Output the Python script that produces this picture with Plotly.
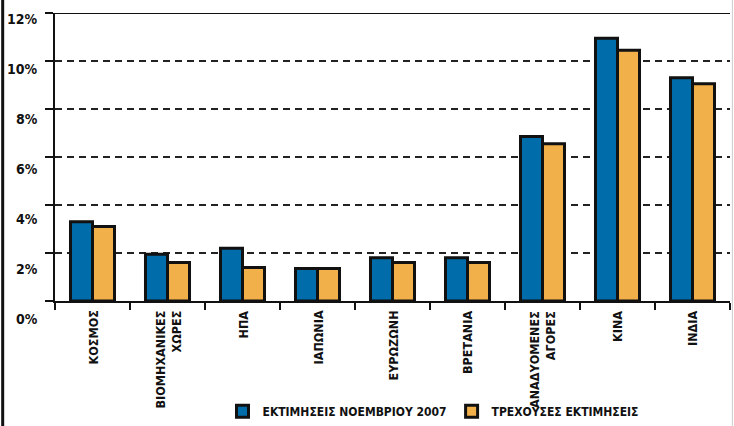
import plotly.graph_objects as go

categories = ["ΚΟΣΜΟΣ", "ΒΙΟΜΗΧΑΝΙΚΕΣ<br>ΧΩΡΕΣ", "ΗΠΑ", "ΙΑΠΩΝΙΑ", "ΕΥΡΩΖΩΝΗ",
              "ΒΡΕΤΑΝΙΑ", "ΑΝΑΔΥΟΜΕΝΕΣ<br>ΑΓΟΡΕΣ", "ΚΙΝΑ", "ΙΝΔΙΑ"]
nov2007 = [3.3, 1.95, 2.2, 1.35, 1.8, 1.8, 6.85, 10.95, 9.3]
current = [3.1, 1.6, 1.4, 1.35, 1.6, 1.6, 6.55, 10.45, 9.05]
series_names = ["ΕΚΤΙΜΗΣΕΙΣ ΝΟΕΜΒΡΙΟΥ 2007", "ΤΡΕΧΟΥΣΕΣ ΕΚΤΙΜΗΣΕΙΣ"]
ytick_vals = [0, 2, 4, 6, 8, 10, 12]
ytick_text = ["0%", "2%", "4%", "6%", "8%", "10%", "12%"]

FONT = "Liberation Sans Narrow, DejaVu Sans Condensed, Arial Narrow, sans-serif"
BLUE = "#006DAA"
ORANGE = "#F2B04A"
INK = "#111111"

PLOT_TOP, PLOT_BOTTOM = 13, 301.5
PLOT_H = PLOT_BOTTOM - PLOT_TOP

fig = go.Figure()
fig.add_trace(go.Bar(x=categories, y=nov2007, name=series_names[0],
                     marker=dict(color=BLUE, line=dict(color=INK, width=3))))
fig.add_trace(go.Bar(x=categories, y=current, name=series_names[1],
                     marker=dict(color=ORANGE, line=dict(color=INK, width=3))))

# y tick labels (placed slightly below their gridlines, as in the original)
for v, t in zip(ytick_vals, ytick_text):
    label_px = 320 - v * 25.1
    fig.add_annotation(x=0, xref="paper", xanchor="right", xshift=-15,
                       y=(PLOT_BOTTOM - label_px) / PLOT_H, yref="paper", yanchor="middle",
                       text=t, showarrow=False,
                       font=dict(family=FONT, size=14, color=INK, weight="bold"))

# x category labels, rotated, centred on category
for c in categories:
    fig.add_annotation(x=c, xref="x", xanchor="center",
                       y=0, yref="paper", yanchor="top", yshift=-8,
                       text=c, textangle=-90, align="right", showarrow=False,
                       font=dict(family=FONT, size=12.5, color=INK, weight="bold"))

# solid top line at 12%
fig.add_shape(type="line", xref="paper", yref="y", x0=-0.012, x1=1, y0=12, y1=12,
              line=dict(color=INK, width=2))
# frame borders
fig.add_shape(type="line", xref="paper", yref="paper", x0=-0.0775, x1=-0.0775,
              y0=-0.5, y1=1.1, line=dict(color=INK, width=3))
fig.add_shape(type="line", xref="paper", yref="paper", x0=1.0035, x1=1.0035,
              y0=-0.5, y1=1.1, line=dict(color="#cccccc", width=1))

fig.update_layout(
    width=734, height=426,
    margin=dict(l=55, r=4, t=PLOT_TOP, b=426 - PLOT_BOTTOM, autoexpand=False),
    paper_bgcolor="white", plot_bgcolor="white",
    barmode="group", bargap=0.413, bargroupgap=0,
    showlegend=True,
    legend=dict(orientation="h", x=0.56, xanchor="center", y=-0.383, yanchor="middle",
                font=dict(family=FONT, size=12, color=INK, weight="bold"),
                itemwidth=30, traceorder="normal"),
    font=dict(family=FONT, color=INK),
)
fig.update_xaxes(showline=True, linecolor=INK, linewidth=2, automargin=False,
                 ticks="outside", tickson="boundaries", ticklen=7, tickwidth=2, tickcolor=INK,
                 showticklabels=False, showgrid=False)
fig.update_yaxes(range=[0, 12], tickvals=ytick_vals, showticklabels=False, automargin=False,
                 showline=True, linecolor=INK, linewidth=2,
                 ticks="outside", ticklen=8, tickwidth=2, tickcolor=INK,
                 showgrid=True, gridcolor="#222222", gridwidth=2, griddash="7px,5px",
                 zeroline=False)

fig.write_html("out.html", config={"displayModeBar": False},
               post_script="document.body.style.margin='0';document.body.style.overflow='hidden';")
